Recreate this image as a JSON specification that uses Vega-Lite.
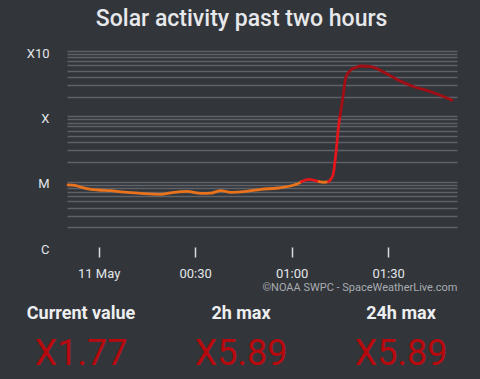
{
  "$schema": "https://vega.github.io/schema/vega-lite/v6.json",
  "background": "#32353a",
  "padding": {"left": 26, "top": 8, "right": 26, "bottom": 14},
  "title": {"text": "Solar activity past two hours", "fontSize": 23, "font": "Roboto", "fontWeight": 500, "color": "#e6e8eb", "anchor": "middle", "offset": 16},
  "config": {"view": {"stroke": null}, "font": "Roboto"},
  "spacing": 2,
  "vconcat": [
    {
      "width": 390,
      "height": 196,
      "data": {"values": [
        {"t": "2024-05-10T23:50:30Z", "v": 8.9e-6, "cls": "C", "seg": "s1"},
        {"t": "2024-05-10T23:52:56Z", "v": 8.67e-6, "cls": "C", "seg": "s1"},
        {"t": "2024-05-10T23:55:00Z", "v": 8.1e-6, "cls": "C", "seg": "s1"},
        {"t": "2024-05-10T23:57:36Z", "v": 7.64e-6, "cls": "C", "seg": "s1"},
        {"t": "2024-05-11T00:00:00Z", "v": 7.45e-6, "cls": "C", "seg": "s1"},
        {"t": "2024-05-11T00:03:49Z", "v": 7.28e-6, "cls": "C", "seg": "s1"},
        {"t": "2024-05-11T00:07:00Z", "v": 7.0e-6, "cls": "C", "seg": "s1"},
        {"t": "2024-05-11T00:10:02Z", "v": 6.78e-6, "cls": "C", "seg": "s1"},
        {"t": "2024-05-11T00:14:05Z", "v": 6.55e-6, "cls": "C", "seg": "s1"},
        {"t": "2024-05-11T00:19:22Z", "v": 6.41e-6, "cls": "C", "seg": "s1"},
        {"t": "2024-05-11T00:21:30Z", "v": 6.6e-6, "cls": "C", "seg": "s1"},
        {"t": "2024-05-11T00:23:25Z", "v": 6.87e-6, "cls": "C", "seg": "s1"},
        {"t": "2024-05-11T00:27:46Z", "v": 7.11e-6, "cls": "C", "seg": "s1"},
        {"t": "2024-05-11T00:29:30Z", "v": 6.85e-6, "cls": "C", "seg": "s1"},
        {"t": "2024-05-11T00:31:48Z", "v": 6.63e-6, "cls": "C", "seg": "s1"},
        {"t": "2024-05-11T00:34:55Z", "v": 6.7e-6, "cls": "C", "seg": "s1"},
        {"t": "2024-05-11T00:38:02Z", "v": 7.28e-6, "cls": "C", "seg": "s1"},
        {"t": "2024-05-11T00:41:08Z", "v": 6.87e-6, "cls": "C", "seg": "s1"},
        {"t": "2024-05-11T00:45:11Z", "v": 7.02e-6, "cls": "C", "seg": "s1"},
        {"t": "2024-05-11T00:50:28Z", "v": 7.64e-6, "cls": "C", "seg": "s1"},
        {"t": "2024-05-11T00:55:45Z", "v": 8.0e-6, "cls": "C", "seg": "s1"},
        {"t": "2024-05-11T01:00:43Z", "v": 8.89e-6, "cls": "C", "seg": "s1"},
        {"t": "2024-05-11T01:02:20Z", "v": 9.5e-6, "cls": "C", "seg": "s1"},
        {"t": "2024-05-11T01:03:00Z", "v": 1.0e-5, "cls": "C", "seg": "s1"},
        {"t": "2024-05-11T01:03:00Z", "v": 1.0e-5, "cls": "M", "seg": "s2"},
        {"t": "2024-05-11T01:05:23Z", "v": 1.087e-5, "cls": "M", "seg": "s2"},
        {"t": "2024-05-11T01:07:00Z", "v": 1.05e-5, "cls": "M", "seg": "s2"},
        {"t": "2024-05-11T01:08:30Z", "v": 1.0e-5, "cls": "M", "seg": "s2"},
        {"t": "2024-05-11T01:08:30Z", "v": 1.0e-5, "cls": "C", "seg": "s3"},
        {"t": "2024-05-11T01:10:00Z", "v": 9.8e-6, "cls": "C", "seg": "s3"},
        {"t": "2024-05-11T01:11:30Z", "v": 1.0e-5, "cls": "C", "seg": "s3"},
        {"t": "2024-05-11T01:11:30Z", "v": 1.0e-5, "cls": "M", "seg": "s4"},
        {"t": "2024-05-11T01:12:51Z", "v": 1.26e-5, "cls": "M", "seg": "s4"},
        {"t": "2024-05-11T01:13:47Z", "v": 2.75e-5, "cls": "M", "seg": "s4"},
        {"t": "2024-05-11T01:14:43Z", "v": 7.91e-5, "cls": "M", "seg": "s4"},
        {"t": "2024-05-11T01:15:02Z", "v": 1.0e-4, "cls": "M", "seg": "s4"},
        {"t": "2024-05-11T01:15:02Z", "v": 1.0e-4, "cls": "X", "seg": "s5"},
        {"t": "2024-05-11T01:15:58Z", "v": 1.98e-4, "cls": "X", "seg": "s5"},
        {"t": "2024-05-11T01:16:54Z", "v": 4.0e-4, "cls": "X", "seg": "s5"},
        {"t": "2024-05-11T01:18:27Z", "v": 5.12e-4, "cls": "X", "seg": "s5"},
        {"t": "2024-05-11T01:20:00Z", "v": 5.6e-4, "cls": "X", "seg": "s5"},
        {"t": "2024-05-11T01:21:34Z", "v": 5.89e-4, "cls": "X", "seg": "s5"},
        {"t": "2024-05-11T01:24:41Z", "v": 5.75e-4, "cls": "X", "seg": "s5"},
        {"t": "2024-05-11T01:28:43Z", "v": 4.72e-4, "cls": "X", "seg": "s5"},
        {"t": "2024-05-11T01:33:04Z", "v": 3.6e-4, "cls": "X", "seg": "s5"},
        {"t": "2024-05-11T01:38:02Z", "v": 2.84e-4, "cls": "X", "seg": "s5"},
        {"t": "2024-05-11T01:43:19Z", "v": 2.38e-4, "cls": "X", "seg": "s5"},
        {"t": "2024-05-11T01:49:50Z", "v": 1.77e-4, "cls": "X", "seg": "s5"}
      ]},
      "mark": {"type": "line", "interpolate": "monotone", "strokeWidth": 2.8, "strokeCap": "round", "strokeJoin": "round"},
      "encoding": {
        "x": {
          "field": "t", "type": "temporal",
          "scale": {"type": "utc", "domain": [
            {"year": 2024, "month": 5, "date": 10, "hours": 23, "minutes": 50, "seconds": 10, "utc": true},
            {"year": 2024, "month": 5, "date": 11, "hours": 1, "minutes": 51, "seconds": 25, "utc": true}
          ]},
          "axis": {
            "values": [
              {"year": 2024, "month": 5, "date": 11, "hours": 0, "minutes": 0, "utc": true},
              {"year": 2024, "month": 5, "date": 11, "hours": 0, "minutes": 30, "utc": true},
              {"year": 2024, "month": 5, "date": 11, "hours": 1, "minutes": 0, "utc": true},
              {"year": 2024, "month": 5, "date": 11, "hours": 1, "minutes": 30, "utc": true}
            ],
            "labelExpr": "utcFormat(datum.value, '%H:%M') == '00:00' ? utcFormat(datum.value, '%-d %b') : utcFormat(datum.value, '%H:%M')",
            "grid": false, "domain": false,
            "tickSize": 10, "tickWidth": 1.5, "tickColor": "#d9dcdf",
            "labelFontSize": 13, "labelColor": "#e3e6e9", "labelPadding": 10, "labelFlush": false,
            "title": "©NOAA SWPC - SpaceWeatherLive.com",
            "titleFontSize": 11, "titleFontWeight": "normal", "titleColor": "#a8acb1",
            "titleAnchor": "end", "titlePadding": 1
          }
        },
        "y": {
          "field": "v", "type": "quantitative",
          "scale": {"type": "log", "domain": [0.000001, 0.001], "nice": false},
          "axis": {
            "values": [0.000001, 0.000002, 0.000003, 0.000004, 0.000005, 0.000006, 0.000007, 0.000008, 0.000009,
                       0.00001, 0.00002, 0.00003, 0.00004, 0.00005, 0.00006, 0.00007, 0.00008, 0.00009,
                       0.0001, 0.0002, 0.0003, 0.0004, 0.0005, 0.0006, 0.0007, 0.0008, 0.0009, 0.001],
            "labelExpr": "datum.value > 0.00099 && datum.value < 0.00101 ? 'X10' : datum.value > 0.000099 && datum.value < 0.000101 ? 'X' : datum.value > 0.0000099 && datum.value < 0.0000101 ? 'M' : datum.value < 0.00000101 ? 'C' : ''",
            "ticks": false, "domain": false,
            "grid": true, "gridColor": "#5e6267", "gridWidth": 1.3,
            "gridOpacity": {"condition": {"test": "datum.value < 0.0000015", "value": 0}, "value": 1},
            "labelFontSize": 13, "labelColor": "#e3e6e9", "labelPadding": 18,
            "labelOverlap": false, "labelBound": false, "labelFlush": false, "labelOffset": 2,
            "title": null
          }
        },
        "color": {"field": "cls", "type": "nominal", "scale": {"domain": ["C", "M", "X"], "range": ["#e8731c", "#e3161b", "#a30d14"]}, "legend": null},
        "detail": {"field": "seg", "type": "nominal"}
      }
    },
    {
      "width": 390,
      "height": 80,
      "data": {"values": [
        {"col": 0, "kind": "label", "text": "Current value"},
        {"col": 1, "kind": "label", "text": "2h max"},
        {"col": 2, "kind": "label", "text": "24h max"},
        {"col": 0, "kind": "value", "text": "X1.77"},
        {"col": 1, "kind": "value", "text": "X5.89"},
        {"col": 2, "kind": "value", "text": "X5.89"}
      ]},
      "encoding": {
        "x": {"field": "col", "type": "quantitative", "scale": {"domain": [-0.0875, 2.35], "nice": false, "zero": false}, "axis": null},
        "y": {"field": "kind", "type": "nominal", "scale": {"domain": ["label", "value"]}, "axis": null},
        "text": {"field": "text"}
      },
      "layer": [
        {"transform": [{"filter": "datum.kind == 'label'"}], "mark": {"type": "text", "fontSize": 18, "fontWeight": "bold", "color": "#eceef0"}},
        {"transform": [{"filter": "datum.kind == 'value'"}], "mark": {"type": "text", "fontSize": 36, "color": "#b8090f"}}
      ]
    }
  ]
}
